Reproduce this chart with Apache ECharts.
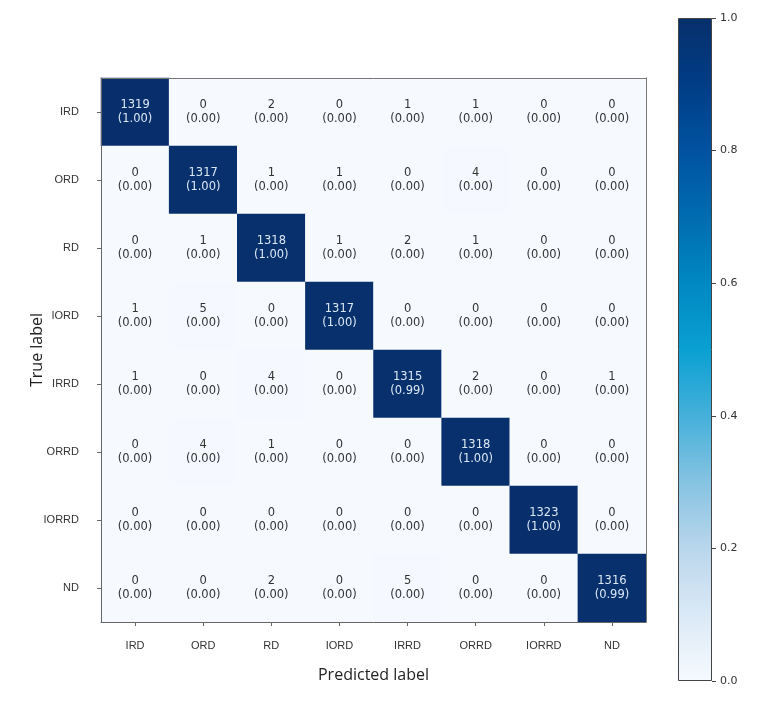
<!DOCTYPE html>
<html>
<head>
<meta charset="utf-8">
<script src="https://cdn.jsdelivr.net/npm/echarts@6/dist/echarts.min.js"></script>
<style>html,body{margin:0;padding:0;background:#fff;}#c{width:771px;height:702px;}</style>
</head>
<body>
<div id="c"></div>
<script>
const classes = ['IRD', 'ORD', 'RD', 'IORD', 'IRRD', 'ORRD', 'IORRD', 'ND'];
// rows = true label, columns = predicted label
const counts = [
  [1319, 0, 2, 0, 1, 1, 0, 0],
  [0, 1317, 1, 1, 0, 4, 0, 0],
  [0, 1, 1318, 1, 2, 1, 0, 0],
  [1, 5, 0, 1317, 0, 0, 0, 0],
  [1, 0, 4, 0, 1315, 2, 0, 1],
  [0, 4, 1, 0, 0, 1318, 0, 0],
  [0, 0, 0, 0, 0, 0, 1323, 0],
  [0, 0, 2, 0, 5, 0, 0, 1316]
];
const colorbarTicks = [0.0, 0.2, 0.4, 0.6, 0.8, 1.0];
const blues = ['#f6faff', '#dbe9f6', '#b9d6ec', '#86c3e2', '#45b0da', '#0aa0d2', '#0088c2', '#006cb0', '#0052a0', '#003d86', '#082f6b'];

const heatData = [];
counts.forEach((row, r) => {
  const s = row.reduce((a, b) => a + b, 0);
  row.forEach((v, c) => {
    heatData.push([c, r, v / s, v]);
  });
});

const chart = echarts.init(document.getElementById('c'));
const labelFont = 'Liberation Sans';
chart.setOption({
  backgroundColor: '#ffffff',
  animation: false,
  grid: [
    { left: 101, top: 78, width: 545, height: 544, containLabel: false },
    { left: 678, top: 18, width: 34, height: 663, containLabel: false }
  ],
  xAxis: [
    {
      type: 'category', data: classes, gridIndex: 0, position: 'bottom', z: 5,
      name: 'Predicted label', nameLocation: 'middle', nameGap: 45,
      nameTextStyle: { fontFamily: 'Open Sans', fontSize: 16, color: '#222' },
      axisLine: { show: true, lineStyle: { color: '#666', width: 1 } },
      axisTick: { show: true, alignWithLabel: true, length: 4, lineStyle: { color: '#666' } },
      axisLabel: { fontFamily: labelFont, fontSize: 11, color: '#333', margin: 18 },
      splitLine: { show: false }
    },
    {
      type: 'category', data: classes, gridIndex: 0, position: 'top', z: 5,
      axisLine: { show: true, lineStyle: { color: '#777', width: 1 } },
      axisTick: { show: false }, axisLabel: { show: false }
    },
    {
      type: 'category', data: ['cb'], gridIndex: 1,
      axisLine: { show: false }, axisTick: { show: false }, axisLabel: { show: false }
    }
  ],
  yAxis: [
    {
      type: 'category', data: classes, gridIndex: 0, inverse: true, position: 'left', z: 5,
      name: 'True label', nameLocation: 'middle', nameGap: 56, nameRotate: 90,
      nameMoveOverlap: false,
      nameTextStyle: { fontFamily: 'Open Sans', fontSize: 16, color: '#222' },
      axisLine: { show: true, lineStyle: { color: '#666', width: 1 } },
      axisTick: { show: true, alignWithLabel: true, length: 4, lineStyle: { color: '#666' } },
      axisLabel: { fontFamily: labelFont, fontSize: 11, color: '#333', margin: 22 },
      splitLine: { show: false }
    },
    {
      type: 'category', data: classes, gridIndex: 0, inverse: true, position: 'right', z: 5,
      axisLine: { show: true, lineStyle: { color: '#777', width: 1 } },
      axisTick: { show: false }, axisLabel: { show: false }
    },
    {
      type: 'value', gridIndex: 1, min: 0, max: 1, interval: 0.2, position: 'right',
      axisLine: { show: false },
      axisTick: { show: true, length: 4, lineStyle: { color: '#444' } },
      axisLabel: { fontFamily: 'DejaVu Sans', fontSize: 11, color: '#333', margin: 8,
        formatter: v => colorbarTicks.includes(Math.round(v * 10) / 10) ? v.toFixed(1) : '' },
      splitLine: { show: false }
    }
  ],
  visualMap: {
    show: false, type: 'continuous', min: 0, max: 1, dimension: 2, seriesIndex: 0,
    inRange: { color: blues }
  },
  series: [
    {
      type: 'heatmap', xAxisIndex: 0, yAxisIndex: 0,
      data: heatData.map(d => ({
        value: d,
        label: { color: d[2] > 0.5 ? '#dbe8f4' : '#333' }
      })),
      label: {
        show: true,
        fontFamily: 'DejaVu Sans', fontSize: 11.5, lineHeight: 14,
        formatter: p => p.value[3] + '\n(' + p.value[2].toFixed(2) + ')',
        color: '#333'
      },
      itemStyle: { borderWidth: 0 }
    },
    {
      type: 'bar', xAxisIndex: 2, yAxisIndex: 2, data: [1], barWidth: '100%',
      silent: true,
      itemStyle: {
        borderColor: '#444', borderWidth: 1,
        color: new echarts.graphic.LinearGradient(0, 1, 0, 0,
          blues.map((c, i) => ({ offset: i / (blues.length - 1), color: c })))
      }
    }
  ]
});
</script>
</body>
</html>
